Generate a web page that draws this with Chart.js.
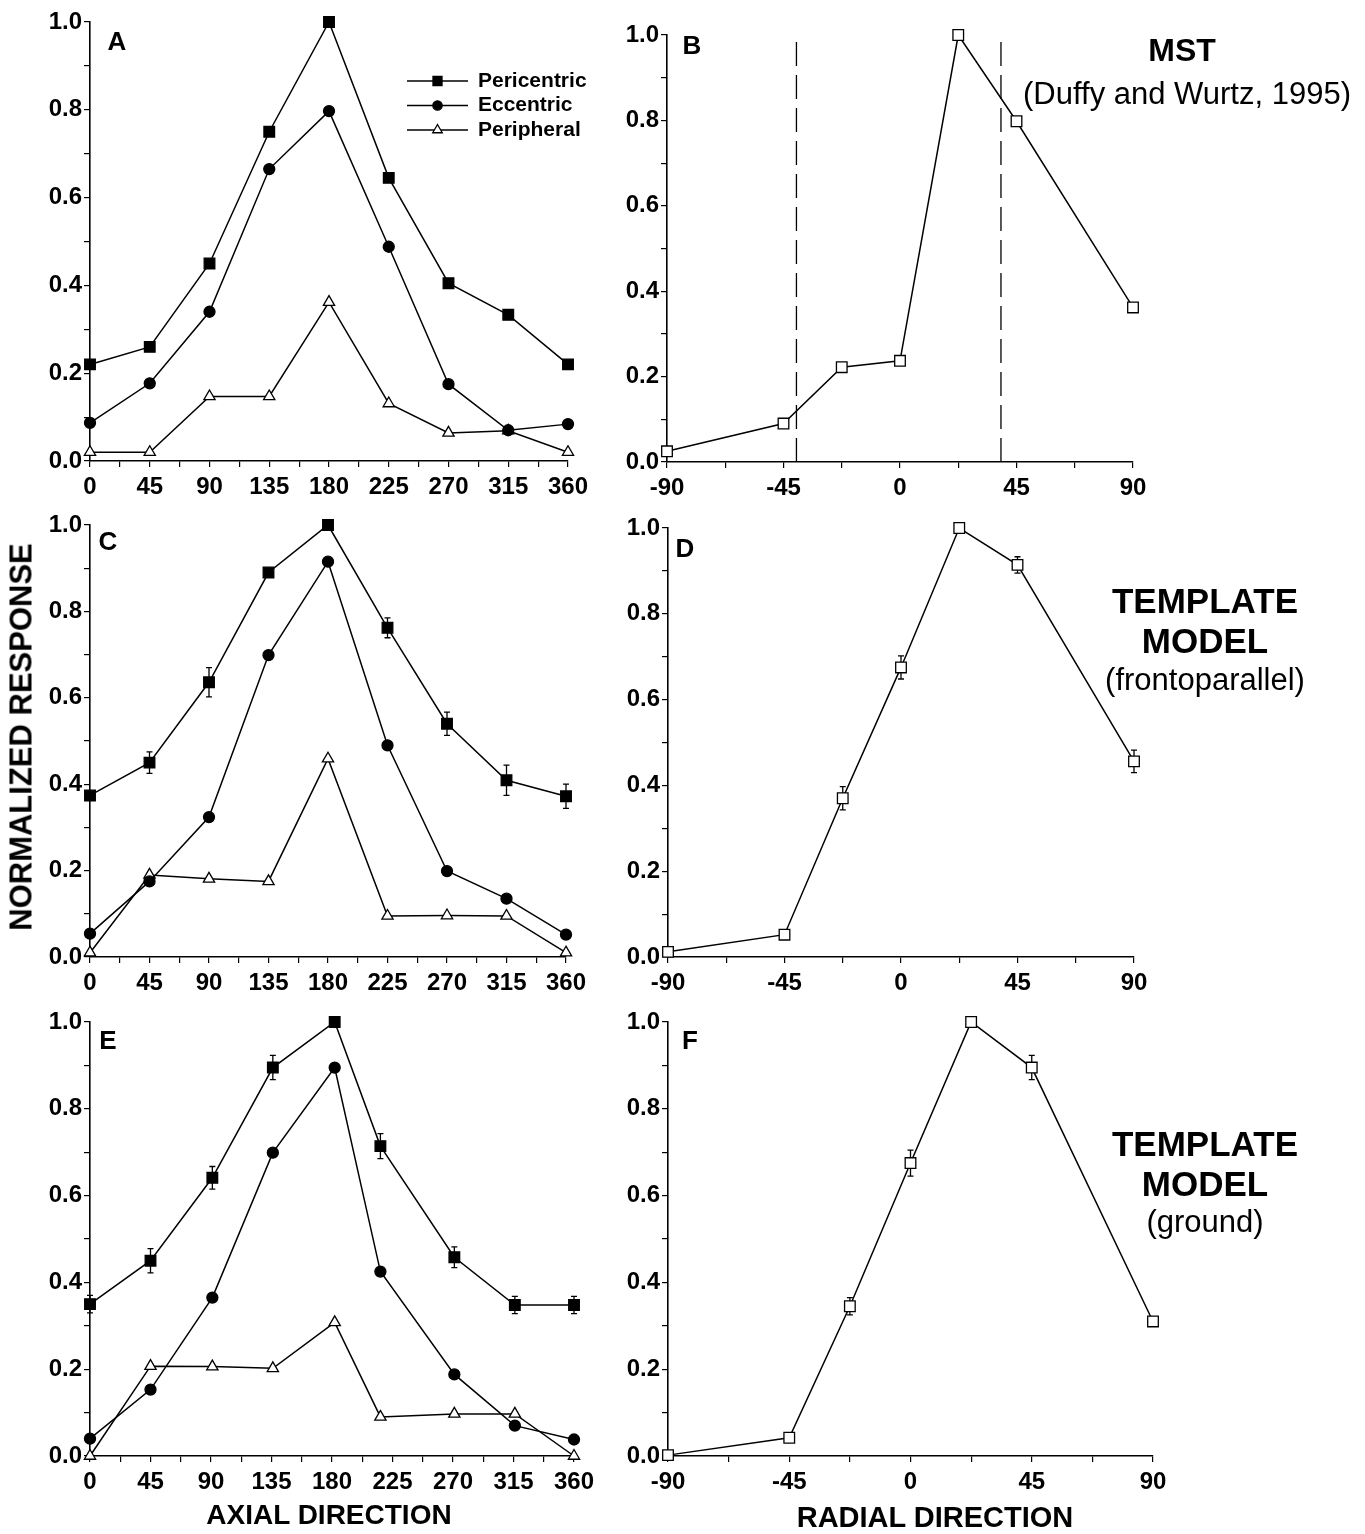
<!DOCTYPE html>
<html>
<head>
<meta charset="utf-8">
<script src="https://cdn.jsdelivr.net/npm/chart.js@4.4.1/dist/chart.umd.min.js"></script>
<style>
  body { margin: 0; background: #fff; }
  #page { position: relative; width: 1365px; height: 1534px; overflow: hidden; font-family: "Liberation Sans", Arial, Helvetica, sans-serif; color: #000; }
  canvas { position: absolute; }
  .lbl { position: absolute; transform: translate(-50%, -50%); white-space: nowrap; line-height: 1; }
  .b { font-weight: bold; }
</style>
</head>
<body>
<div id="page">
  <canvas id="cA" width="610" height="505" style="left:0;top:0"></canvas>
  <canvas id="cB" width="755" height="505" style="left:610px;top:0"></canvas>
  <canvas id="cC" width="610" height="495" style="left:0;top:505px"></canvas>
  <canvas id="cD" width="755" height="495" style="left:610px;top:505px"></canvas>
  <canvas id="cE" width="610" height="534" style="left:0;top:1000px"></canvas>
  <canvas id="cF" width="755" height="534" style="left:610px;top:1000px"></canvas>

  <div class="lbl b" style="left:117px;top:41px;font-size:26px">A</div>
  <div class="lbl b" style="left:692px;top:45px;font-size:26px">B</div>
  <div class="lbl b" style="left:108px;top:541px;font-size:26px">C</div>
  <div class="lbl b" style="left:685px;top:548px;font-size:26px">D</div>
  <div class="lbl b" style="left:108px;top:1040px;font-size:26px">E</div>
  <div class="lbl b" style="left:690px;top:1040px;font-size:26px">F</div>

  <div class="lbl b" style="left:1182px;top:50px;font-size:32px">MST</div>
  <div class="lbl" style="left:1187px;top:93px;font-size:31px">(Duffy and Wurtz, 1995)</div>
  <div class="lbl b" style="left:1205px;top:600px;font-size:35px">TEMPLATE</div>
  <div class="lbl b" style="left:1205px;top:640px;font-size:35px">MODEL</div>
  <div class="lbl" style="left:1205px;top:679px;font-size:31px">(frontoparallel)</div>
  <div class="lbl b" style="left:1205px;top:1143px;font-size:35px">TEMPLATE</div>
  <div class="lbl b" style="left:1205px;top:1183px;font-size:35px">MODEL</div>
  <div class="lbl" style="left:1205px;top:1221px;font-size:31px">(ground)</div>

  <div class="lbl b" style="left:21px;top:737px;font-size:31px;transform:translate(-50%,-50%) rotate(-90deg)">NORMALIZED RESPONSE</div>
  <div class="lbl b" style="left:329px;top:1515px;font-size:28px">AXIAL DIRECTION</div>
  <div class="lbl b" style="left:935px;top:1517px;font-size:29px">RADIAL DIRECTION</div>
</div>
<script>
// x positions
const axialDeg = [0, 45, 90, 135, 180, 225, 270, 315, 360];
const axialDegE = [0, 45, 91, 136, 182, 216, 271, 316, 360]; // panel E points sit a bit off the grid
const radialDeg = [-90, -45, -22.5, 0, 22.5, 45, 90];

// A - MST data (axial)
const periA = [0.22, 0.26, 0.45, 0.75, 1.0, 0.645, 0.405, 0.333, 0.22];
const eccA = [0.087, 0.177, 0.34, 0.665, 0.797, 0.488, 0.175, 0.07, 0.084];
const periphA = [0.02, 0.02, 0.147, 0.147, 0.362, 0.131, 0.064, 0.069, 0.02];

// B - MST radial
const mstB = [0.025, 0.09, 0.222, 0.237, 1.0, 0.798, 0.362];
const dashB = [-40, 39];

// C - template model, frontoparallel (axial)
const periC = [0.374, 0.45, 0.636, 0.89, 1.0, 0.762, 0.54, 0.409, 0.372];
const periCErr = [0, 0.025, 0.034, 0.01, 0, 0.023, 0.027, 0.035, 0.028];
const eccC = [0.054, 0.175, 0.324, 0.699, 0.915, 0.49, 0.199, 0.135, 0.052];
const periphC = [0.01, 0.19, 0.181, 0.175, 0.459, 0.095, 0.096, 0.095, 0.01];

// D - template model, frontoparallel (radial)
const frontoD = [0.012, 0.052, 0.37, 0.675, 1.0, 0.914, 0.456];
const frontoDErr = [0, 0, 0.027, 0.027, 0.01, 0.019, 0.026];

// E - template model, ground (axial)
const periE = [0.35, 0.45, 0.641, 0.895, 1.0, 0.714, 0.458, 0.348, 0.348];
const periEErr = [0.02, 0.028, 0.026, 0.028, 0, 0.029, 0.024, 0.02, 0.02];
const eccE = [0.04, 0.153, 0.365, 0.699, 0.895, 0.425, 0.188, 0.07, 0.038];
const periphE = [0.0, 0.207, 0.206, 0.202, 0.308, 0.09, 0.097, 0.097, 0.0];

// F - template model, ground (radial)
const groundF = [0.002, 0.042, 0.345, 0.675, 1.0, 0.895, 0.31];
const groundFErr = [0, 0, 0.02, 0.03, 0.012, 0.028, 0.01];

const FONT = '"Liberation Sans", Arial, Helvetica, sans-serif';
Chart.defaults.font.family = FONT;
Chart.defaults.color = '#000';

const pts = (xs, ys) => ys.map((y, i) => ({ x: xs[i], y: y }));

// error bars drawn under the markers
const errorBars = {
  id: 'errorBars',
  beforeDatasetsDraw(chart) {
    const ctx = chart.ctx, ys = chart.scales.y;
    chart.data.datasets.forEach((ds, i) => {
      if (!ds.errors) return;
      chart.getDatasetMeta(i).data.forEach((el, j) => {
        const e = ds.errors[j];
        if (!e) return;
        const v = ds.data[j].y;
        const top = ys.getPixelForValue(v + e), bot = ys.getPixelForValue(v - e);
        ctx.save();
        ctx.strokeStyle = '#000';
        ctx.lineWidth = 1.3;
        ctx.beginPath();
        ctx.moveTo(el.x, top); ctx.lineTo(el.x, bot);
        ctx.moveTo(el.x - 3, top); ctx.lineTo(el.x + 3, top);
        ctx.moveTo(el.x - 3, bot); ctx.lineTo(el.x + 3, bot);
        ctx.stroke();
        ctx.restore();
      });
    });
  }
};

// legend with line + marker, like the printed figure
const lineLegend = {
  id: 'lineLegend',
  afterDraw(chart, args, o) {
    if (!o.show) return;
    const ctx = chart.ctx;
    chart.data.datasets.forEach((ds, i) => {
      const y = o.y + i * o.gap;
      ctx.save();
      ctx.strokeStyle = '#000';
      ctx.lineWidth = 1.5;
      ctx.beginPath(); ctx.moveTo(o.x, y); ctx.lineTo(o.x + o.len, y); ctx.stroke();
      ctx.fillStyle = ds.pointBackgroundColor;
      ctx.lineWidth = 1.3;
      Chart.helpers.drawPoint(ctx, { pointStyle: ds.pointStyle, radius: ds.pointRadius * 0.85, borderWidth: 1.3 }, o.x + o.len / 2, y);
      ctx.fillStyle = '#000';
      ctx.font = 'bold 21px ' + FONT;
      ctx.textBaseline = 'middle';
      ctx.fillText(ds.label, o.x + o.len + 10, y);
      ctx.restore();
    });
  }
};
Chart.register(errorBars, lineLegend);

function series(label, xs, ys, style, errs) {
  const s = {
    label: label,
    data: pts(xs, ys),
    showLine: true,
    borderColor: '#000',
    borderWidth: 1.5,
    pointBorderColor: '#000',
    pointBorderWidth: 1.3,
    clip: false,
    tension: 0
  };
  if (style === 'sq') { s.pointStyle = 'rect'; s.pointRadius = 7.5; s.pointBackgroundColor = '#000'; }
  if (style === 'dot') { s.pointStyle = 'circle'; s.pointRadius = 5.5; s.pointBackgroundColor = '#000'; }
  if (style === 'tri') { s.pointStyle = 'triangle'; s.pointRadius = 6.5; s.pointBackgroundColor = '#fff'; }
  if (style === 'open') { s.pointStyle = 'rect'; s.pointRadius = 7.5; s.pointBackgroundColor = '#fff'; }
  if (errs) s.errors = errs;
  return s;
}

function panel(id, datasets, p) {
  const axial = p.axial;
  new Chart(document.getElementById(id), {
    type: 'scatter',
    data: { datasets: datasets },
    options: {
      responsive: false,
      animation: false,
      devicePixelRatio: 1,
      layout: { padding: { left: 0, top: p.top, right: p.right, bottom: p.bottom } },
      plugins: {
        legend: { display: false },
        tooltip: { enabled: false },
        lineLegend: p.legend || { show: false }
      },
      scales: {
        x: {
          type: 'linear',
          min: axial ? 0 : -90,
          max: axial ? 360 : 90,
          afterFit: s => { s.height = p.xh; },
          border: { color: '#000', width: 1.6 },
          grid: { drawOnChartArea: false, color: '#000', lineWidth: 1.2, tickLength: 6 },
          ticks: {
            stepSize: 22.5,
            autoSkip: false,
            maxRotation: 0,
            padding: 6,
            font: { size: 24, weight: 'bold' },
            callback: v => (Math.abs(v % 45) < 1e-6 ? String(v) : '')
          }
        },
        y: {
          min: 0,
          max: 1,
          afterFit: s => { s.width = p.yw; },
          border: { color: '#000', width: 1.6 },
          grid: { drawOnChartArea: false, color: '#000', lineWidth: 1.2, tickLength: 6 },
          ticks: {
            stepSize: 0.1,
            autoSkip: false,
            padding: 2,
            font: { size: 24, weight: 'bold' },
            callback: v => (Math.round(v * 10) % 2 === 0 ? v.toFixed(1) : '')
          }
        }
      }
    }
  });
}

panel('cA', [
  series('Pericentric', axialDeg, periA, 'sq'),
  series('Eccentric', axialDeg, eccA, 'dot'),
  series('Peripheral', axialDeg, periphA, 'tri')
], { axial: true, top: 22, right: 42, bottom: 0, xh: 44, yw: 90,
     legend: { show: true, x: 407, y: 81, gap: 24.5, len: 61 } });

const dashed = dashB.map(d => ({
  data: [{ x: d, y: 0 }, { x: d, y: 1.0 }],
  showLine: true, borderColor: '#000', borderWidth: 1.3, borderDash: [24, 9], pointRadius: 0, clip: false
}));
panel('cB', [series('MST', radialDeg, mstB, 'open')].concat(dashed),
  { axial: false, top: 35, right: 232, bottom: 0, xh: 43, yw: 57 });

panel('cC', [
  series('Pericentric', axialDeg, periC, 'sq', periCErr),
  series('Eccentric', axialDeg, eccC, 'dot'),
  series('Peripheral', axialDeg, periphC, 'tri')
], { axial: true, top: 20, right: 44, bottom: 0, xh: 43, yw: 90 });

panel('cD', [series('Frontoparallel', radialDeg, frontoD, 'open', frontoDErr)],
  { axial: false, top: 23, right: 231, bottom: 0, xh: 43, yw: 58 });

panel('cE', [
  series('Pericentric', axialDegE, periE, 'sq', periEErr),
  series('Eccentric', axialDegE, eccE, 'dot'),
  series('Peripheral', axialDegE, periphE, 'tri')
], { axial: true, top: 22, right: 36, bottom: 34, xh: 44, yw: 90 });

panel('cF', [series('Ground', radialDeg, groundF, 'open', groundFErr)],
  { axial: false, top: 22, right: 212, bottom: 34, xh: 44, yw: 58 });
</script>
</body>
</html>
